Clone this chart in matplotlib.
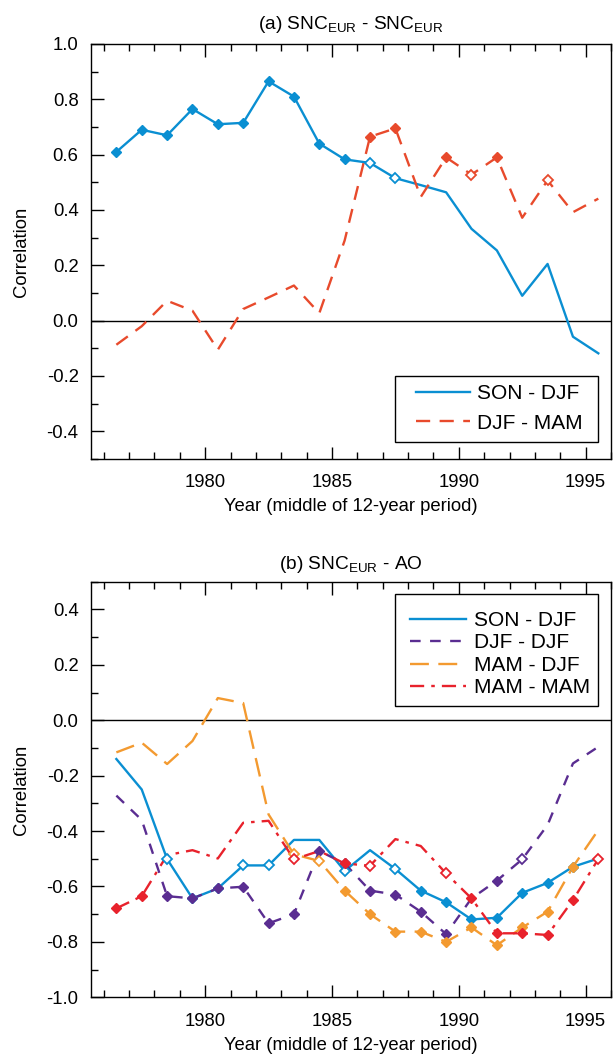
import numpy as np
import matplotlib
matplotlib.use("Agg")
import matplotlib.pyplot as plt
from matplotlib.ticker import MultipleLocator, FormatStrFormatter
from matplotlib.patches import Rectangle

plt.rcParams['font.family'] = ['Liberation Sans', 'DejaVu Sans']
plt.rcParams['mathtext.fontset'] = 'custom'
plt.rcParams['mathtext.rm'] = 'Liberation Sans'
plt.rcParams['mathtext.it'] = 'Liberation Sans'
plt.rcParams['mathtext.bf'] = 'Liberation Sans'

years = [1976.5 + i for i in range(20)]

# Panel (a)
a_son_djf = [0.61, 0.69, 0.67, 0.765, 0.71, 0.715, 0.865, 0.81, 0.64, 0.583,
             0.57, 0.515, 0.49, 0.464, 0.332, 0.254, 0.09, 0.205, -0.058, -0.118]
a_djf_mam = [-0.087, -0.02, 0.072, 0.036, -0.105, 0.042, 0.084, 0.127, 0.027, 0.29,
             0.665, 0.695, 0.447, 0.59, 0.528, 0.59, 0.372, 0.507, 0.392, 0.441]
a_son_djf_sig = ['f'] * 10 + ['o', 'o'] + [''] * 8
a_djf_mam_sig = [''] * 10 + ['f', 'f', '', 'f', 'o', 'f', '', 'o', '', '']

# Panel (b)
b_son_djf = [-0.14, -0.25, -0.501, -0.643, -0.607, -0.524, -0.524, -0.432, -0.432, -0.544,
             -0.469, -0.537, -0.615, -0.657, -0.719, -0.713, -0.623, -0.587, -0.529, -0.499]
b_djf_djf = [-0.272, -0.36, -0.635, -0.643, -0.607, -0.601, -0.733, -0.70, -0.472, -0.517,
             -0.615, -0.629, -0.691, -0.772, -0.643, -0.579, -0.502, -0.378, -0.156, -0.096]
b_mam_djf = [-0.116, -0.081, -0.158, -0.075, 0.08, 0.062, -0.34, -0.484, -0.508, -0.615,
             -0.70, -0.763, -0.763, -0.80, -0.748, -0.812, -0.748, -0.691, -0.529, -0.396]
b_mam_mam = [-0.679, -0.635, -0.487, -0.469, -0.499, -0.37, -0.363, -0.502, -0.472, -0.517,
             -0.525, -0.429, -0.454, -0.553, -0.643, -0.769, -0.769, -0.775, -0.649, -0.501]
b_son_djf_sig = ['', '', 'o', 'f', 'f', 'o', 'o', '', '', 'o',
                 '', 'o', 'f', 'f', 'f', 'f', 'f', 'f', 'f', '']
b_djf_djf_sig = ['', '', 'f', 'f', 'f', 'f', 'f', 'f', 'f', 'f',
                 'f', 'f', 'f', 'f', '', 'f', 'o', '', '', '']
b_mam_djf_sig = ['', '', '', '', '', '', '', 'o', 'o', 'f',
                 'f', 'f', 'f', 'f', 'f', 'f', 'f', 'f', 'f', '']
b_mam_mam_sig = ['f', 'f', '', '', '', '', '', 'o', '', 'f',
                 'o', '', '', 'o', 'f', 'f', 'f', 'f', 'f', 'o']

BLUE = '#0a8fd2'
REDA = '#e84a2c'
PURPLE = '#5a2d91'
ORANGE = '#f39a30'
RED = '#e8222c'

FS = 13.3
LFS = 15


def plot_series(ax, x, y, sig, color, ls, label):
    ax.plot(x, y, color=color, lw=1.7, linestyle=ls, label=label, zorder=3)
    xf = [xi for xi, s in zip(x, sig) if s == 'f']
    yf = [yi for yi, s in zip(y, sig) if s == 'f']
    xo = [xi for xi, s in zip(x, sig) if s == 'o']
    yo = [yi for yi, s in zip(y, sig) if s == 'o']
    ax.plot(xf, yf, linestyle='none', marker='D', ms=5.5, mfc=color, mec=color, zorder=4)
    ax.plot(xo, yo, linestyle='none', marker='D', ms=5, mfc='white', mec=color, mew=1.3, zorder=4)


def style_axes(ax, ylo, yhi, ylab_ticks):
    ax.set_xlim(1975.5, 1996.0)
    ax.set_ylim(ylo, yhi)
    ax.axhline(0, color='black', lw=1.0, zorder=2)
    ax.xaxis.set_major_locator(MultipleLocator(5))
    ax.xaxis.set_minor_locator(MultipleLocator(1))
    ax.set_yticks(ylab_ticks)
    ax.yaxis.set_minor_locator(MultipleLocator(0.1))
    ax.yaxis.set_major_formatter(FormatStrFormatter('%.1f'))
    ax.tick_params(which='both', direction='in', top=True, right=False, labelsize=FS)
    ax.tick_params(axis='x', pad=11)
    ax.tick_params(axis='y', pad=9)
    ax.tick_params(which='major', length=9, width=1.0)
    ax.tick_params(which='minor', length=5, width=1.0)
    for s in ax.spines.values():
        s.set_linewidth(1.0)
    ax.set_ylabel('Correlation', fontsize=FS, labelpad=12)
    ax.set_xlabel('Year (middle of 12-year period)', fontsize=FS, labelpad=5)
    ax.xaxis.set_ticklabels([str(int(t)) if float(t).is_integer() else '' for t in ax.get_xticks()])


def boxed_legend(ax, anchor, box, spacing, hl):
    leg = ax.legend(loc='upper left', bbox_to_anchor=anchor, fontsize=LFS,
                    frameon=False, handlelength=hl, handletextpad=0.35,
                    borderpad=0, labelspacing=spacing, borderaxespad=0)
    x0, y0, x1, y1 = box
    ax.add_patch(Rectangle((x0, y0), x1 - x0, y1 - y0, transform=ax.transAxes,
                           facecolor='white', edgecolor='black', lw=1.0, zorder=5))
    leg.set_zorder(6)


fig = plt.figure(figsize=(6.13, 10.55), dpi=100)
L, R = 91 / 613, 611 / 613
axa = fig.add_axes([L, 1 - 459 / 1055, R - L, (459 - 44) / 1055])
axb = fig.add_axes([L, 1 - 997.3 / 1055, R - L, (997.3 - 581.7) / 1055])

plot_series(axa, years, a_son_djf, a_son_djf_sig, BLUE, '-', 'SON - DJF')
plot_series(axa, years, a_djf_mam, a_djf_mam_sig, REDA, (0, (6, 4)), 'DJF - MAM')
style_axes(axa, -0.5, 1.0, [1.0, 0.8, 0.6, 0.4, 0.2, 0.0, -0.2, -0.4])
axa.set_title(r'(a) SNC$_{\rm EUR}$ - SNC$_{\rm EUR}$', fontsize=FS + 0.5, pad=11)
boxed_legend(axa, (0.625, 0.180), (0.585, 0.041, 0.975, 0.20), 0.5, 2.6)

plot_series(axb, years, b_son_djf, b_son_djf_sig, BLUE, '-', 'SON - DJF')
plot_series(axb, years, b_djf_djf, b_djf_djf_sig, PURPLE, (0, (4.5, 4)), 'DJF - DJF')
plot_series(axb, years, b_mam_djf, b_mam_djf_sig, ORANGE, (0, (8, 4)), 'MAM - DJF')
plot_series(axb, years, b_mam_mam, b_mam_mam_sig, RED, (0, (6, 3, 1.5, 3)), 'MAM - MAM')
style_axes(axb, -1.0, 0.5, [0.4, 0.2, 0.0, -0.2, -0.4, -0.6, -0.8, -1.0])
axb.set_title(r'(b) SNC$_{\rm EUR}$ - AO', fontsize=FS + 0.5, pad=9)
boxed_legend(axb, (0.6135, 0.930), (0.585, 0.701, 0.975, 0.970), 0.17, 2.7)

fig.savefig('out.png', dpi=100)
